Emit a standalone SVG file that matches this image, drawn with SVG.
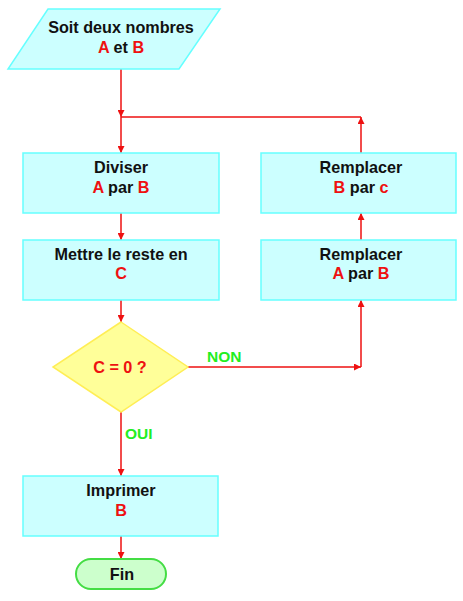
<svg xmlns="http://www.w3.org/2000/svg" width="463" height="601" viewBox="0 0 463 601">
<style>
.box{fill:#ccffff;stroke:#66ffff;stroke-width:1.5}
.t{font-family:"Liberation Sans",Arial,sans-serif;font-weight:bold;font-size:16.2px;text-anchor:middle;fill:#111}
.r{fill:#ee1111}
.g{font-family:"Liberation Sans",Arial,sans-serif;font-weight:bold;font-size:15.5px;fill:#22ee22}
.ln{fill:none;stroke:#ee1111;stroke-width:1.5}
</style>
<defs>
<marker id="ah" viewBox="0 0 10 10" refX="10" refY="5" markerWidth="7" markerHeight="7" markerUnits="userSpaceOnUse" orient="auto">
<path d="M0,0 L10,5 L0,10 Z" fill="#ee1111"/>
</marker>
</defs>
<rect width="463" height="601" fill="#ffffff"/>
<g id="connectors">
<path class="ln" d="M121,69 V117" marker-end="url(#ah)"/>
<path class="ln" d="M361,117 H121"/>
<path class="ln" d="M121,117 V153" marker-end="url(#ah)"/>
<path class="ln" d="M361,153 V117" marker-end="url(#ah)"/>
<path class="ln" d="M121,213 V240" marker-end="url(#ah)"/>
<path class="ln" d="M361,240 V213" marker-end="url(#ah)"/>
<path class="ln" d="M121,300 V322" marker-end="url(#ah)"/>
<path class="ln" d="M188,367 H361" marker-end="url(#ah)"/>
<path class="ln" d="M361,367 V300" marker-end="url(#ah)"/>
<path class="ln" d="M121,412 V476" marker-end="url(#ah)"/>
<path class="ln" d="M121,536 V559" marker-end="url(#ah)"/>
<text class="g" x="207" y="362">NON</text>
<text class="g" x="125" y="439">OUI</text>
</g>
<g id="start">
<polygon class="box" points="48,9 220,9 179,69 8,69"/>
<text class="t" x="121" y="33">Soit deux nombres</text>
<text class="t" x="121" y="53"><tspan class="r">A</tspan> et <tspan class="r">B</tspan></text>
</g>
<g id="diviser">
<rect class="box" x="23" y="153" width="196" height="60"/>
<text class="t" x="121" y="173">Diviser</text>
<text class="t" x="121" y="193"><tspan class="r">A</tspan> par <tspan class="r">B</tspan></text>
</g>
<g id="mettre">
<rect class="box" x="23" y="240" width="196" height="60"/>
<text class="t" x="121" y="260">Mettre le reste en</text>
<text class="t r" x="121" y="279">C</text>
</g>
<g id="remplacerB">
<rect class="box" x="261" y="153" width="195" height="60"/>
<text class="t" x="361" y="173">Remplacer</text>
<text class="t" x="361" y="193"><tspan class="r">B</tspan> par <tspan class="r">c</tspan></text>
</g>
<g id="remplacerA">
<rect class="box" x="261" y="240" width="195" height="60"/>
<text class="t" x="361" y="260">Remplacer</text>
<text class="t" x="361" y="279"><tspan class="r">A</tspan> par <tspan class="r">B</tspan></text>
</g>
<g id="decision">
<polygon points="121,322 188,367 121,412 53,367" fill="#ffff99" stroke="#ffee55" stroke-width="1.5"/>
<text class="t r" x="120" y="373">C = 0 ?</text>
</g>
<g id="imprimer">
<rect class="box" x="23" y="476" width="195" height="60"/>
<text class="t" x="121" y="496">Imprimer</text>
<text class="t r" x="121" y="516">B</text>
</g>
<g id="fin">
<rect x="76" y="559" width="90" height="30" rx="15" ry="15" fill="#ccffcc" stroke="#44dd44" stroke-width="2"/>
<text class="t" x="122" y="580">Fin</text>
</g>
</svg>
